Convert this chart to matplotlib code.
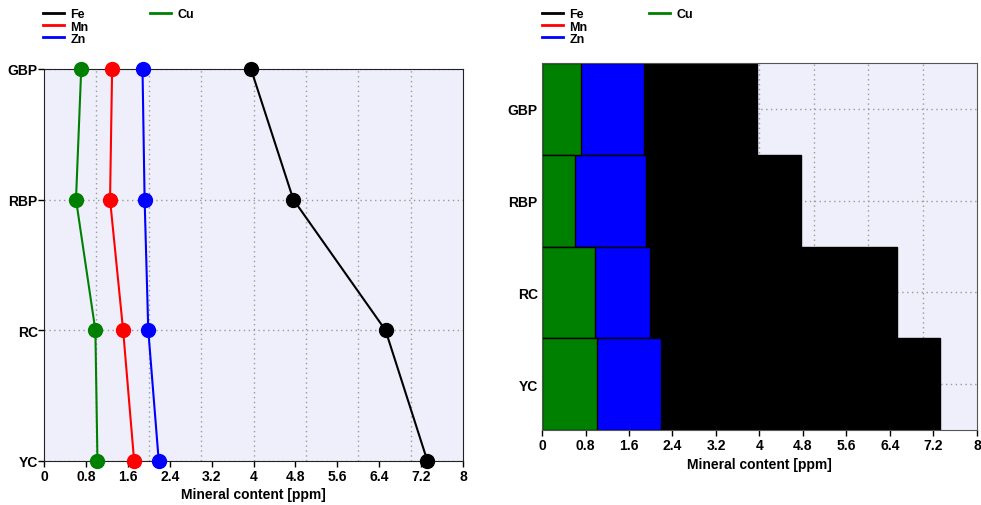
import matplotlib.pyplot as plt
import numpy as np

plt.rcParams['font.family'] = ['Liberation Sans', 'DejaVu Sans']
plt.rcParams['font.weight'] = 'bold'

sites = ['GBP', 'RBP', 'RC', 'YC']
fe = [3.95, 4.76, 6.52, 7.32]
mn = [1.30, 1.26, 1.51, 1.72]
zn = [1.88, 1.92, 1.99, 2.19]
cu = [0.71, 0.61, 0.98, 1.02]
xticks = [0, 0.8, 1.6, 2.4, 3.2, 4, 4.8, 5.6, 6.4, 7.2, 8]
xtick_labels = ['0', '0.8', '1.6', '2.4', '3.2', '4', '4.8', '5.6', '6.4', '7.2', '8']

bg = '#efeffb'
grid_kw = dict(color='#999999', linestyle=(0, (1, 2.5)), linewidth=1.0)
series = [('Fe', fe, 'black'), ('Mn', mn, 'red'), ('Zn', zn, 'blue'), ('Cu', cu, 'green')]
fs = 10

fig = plt.figure(figsize=(9.81, 5.06), dpi=100)

# left: profile lines
ax1 = fig.add_axes([0.0449, 0.087, 0.4271, 0.775])
ax1.set_facecolor(bg)
y = np.arange(len(sites))
for name, vals, col in series:
    ax1.plot(vals, y, color=col, lw=1.5, marker='o', ms=10, label=name,
             clip_on=False, zorder=3)
ax1.set_xlim(0, 8)
ax1.set_ylim(3, 0)
ax1.set_yticks(y)
ax1.set_yticklabels(sites)
ax1.set_xticks(xticks)
ax1.set_xticklabels(xtick_labels)
for v in range(1, 8):
    ax1.axvline(v, zorder=1, **grid_kw)
for v in y:
    ax1.axhline(v, zorder=1, **grid_kw)
ax1.tick_params(labelsize=fs, length=4, width=1, pad=2)
ax1.tick_params(axis='y', pad=0.5)
ax1.set_xlabel('Mineral content [ppm]', fontsize=fs, fontweight='bold', labelpad=3)
for s in ax1.spines.values():
    s.set_color('#222222')

# right: overlapped bars
ax2 = fig.add_axes([0.5525, 0.148, 0.4434, 0.7255])
ax2.set_facecolor(bg)
for v in range(1, 8):
    ax2.axvline(v, zorder=0, **grid_kw)
for v in y:
    ax2.axhline(v, zorder=0, **grid_kw)
for name, vals, col in series:
    ax2.barh(y, vals, height=1.0, color=col, edgecolor='black', linewidth=1,
             label=name, zorder=2)
ax2.set_xlim(0, 8)
ax2.set_ylim(3.5, -0.5)
ax2.set_yticks(y)
ax2.set_yticklabels(sites)
ax2.set_xticks(xticks)
ax2.set_xticklabels(xtick_labels)
ax2.tick_params(axis='x', labelsize=fs, length=4, width=1, pad=2)
ax2.tick_params(axis='y', labelsize=fs, length=0, pad=3)
ax2.set_xlabel('Mineral content [ppm]', fontsize=fs, fontweight='bold', labelpad=3)
for s in ax2.spines.values():
    s.set_color('#555555')

blank = plt.Line2D([], [], linestyle='none')
for ax, x0 in [(ax1, 0.0349), (ax2, 0.5436)]:
    h = [plt.Line2D([], [], color=c, lw=2) for _, _, c in series]
    handles = h[:3] + [h[3], blank, blank]
    labels = ['Fe', 'Mn', 'Zn', 'Cu', '', '']
    fig.legend(handles, labels, loc='upper left', bbox_to_anchor=(x0, 0.999),
               ncol=2, frameon=False, fontsize=9, handlelength=1.7,
               handletextpad=0.5, labelspacing=0.02, columnspacing=4.9,
               borderpad=0.2)

fig.savefig('out.png', dpi=100)
